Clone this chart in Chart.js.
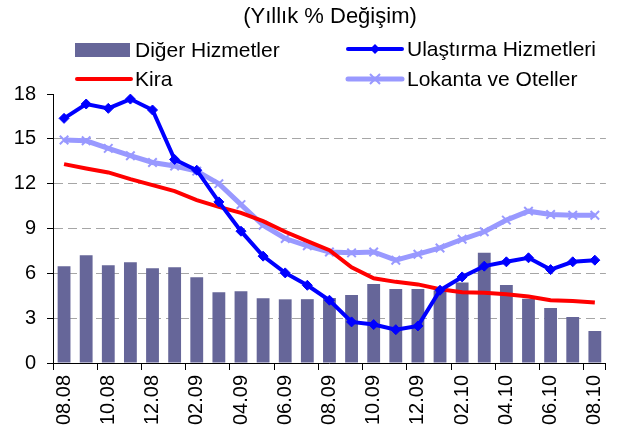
<!DOCTYPE html>
<html>
<head>
<meta charset="utf-8">
<script src="https://cdn.jsdelivr.net/npm/chart.js@4.4.1/dist/chart.umd.min.js"></script>
<style>
  body { margin: 0; background: #fff; }
  .chart-box { width: 624px; height: 440px; }
</style>
</head>
<body>
<div class="chart-box"><canvas id="hizmet-chart" width="624" height="440"></canvas></div>
<script>
const months = ['08.08', '09.08', '10.08', '11.08', '12.08',
  '01.09', '02.09', '03.09', '04.09', '05.09', '06.09', '07.09', '08.09', '09.09', '10.09', '11.09', '12.09',
  '01.10', '02.10', '03.10', '04.10', '05.10', '06.10', '07.10', '08.10'];

const digerHizmetler = [6.47, 7.21, 6.54, 6.74, 6.34, 6.41, 5.74, 4.73, 4.8, 4.33, 4.26, 4.27, 4.35,
  4.55, 5.29, 4.96, 4.96, 4.85, 5.38, 7.37, 5.22, 4.3, 3.68, 3.08, 2.14];
const ulastirma = [16.37, 17.33, 17.04, 17.66, 16.93, 13.62, 12.9, 10.78, 8.82, 7.15, 6.03, 5.2, 4.2,
  2.75, 2.57, 2.23, 2.48, 4.87, 5.76, 6.48, 6.77, 7.04, 6.25, 6.77, 6.88];
const kira = [13.31, 13.02, 12.75, 12.3, 11.9, 11.5, 10.9, 10.45, 10.05, 9.49, 8.78, 8.15, 7.55,
  6.4, 5.67, 5.43, 5.26, 4.93, 4.73, 4.7, 4.6, 4.45, 4.2, 4.15, 4.05];
const lokanta = [14.92, 14.87, 14.36, 13.87, 13.42, 13.18, 12.84, 12.0, 10.6, 9.22, 8.33, 7.84, 7.43,
  7.37, 7.43, 6.88, 7.28, 7.7, 8.28, 8.78, 9.56, 10.16, 9.94, 9.89, 9.89];
const yTicks = [0, 3, 6, 9, 12, 15, 18];

const FONT = '"Liberation Sans", Arial, sans-serif';
Chart.defaults.color = '#000';
Chart.defaults.font.family = FONT;

// title + two column legend, drawn by hand
const legendPlugin = {
  id: 'ikiSutunLegend',
  afterDraw(chart) {
    const ctx = chart.ctx;
    const slots = [{x: 75, y: 50}, {x: 346, y: 49}, {x: 75, y: 79}, {x: 346, y: 79}];
    ctx.save();
    ctx.fillStyle = '#000';
    ctx.textBaseline = 'middle';
    ctx.textAlign = 'center';
    ctx.font = '22px ' + FONT;
    ctx.fillText('(Yıllık % Değişim)', 330, 17);

    ctx.textAlign = 'left';
    ctx.font = '21px ' + FONT;
    chart.data.datasets.forEach((ds, i) => {
      const s = slots[i];
      if (ds.type === 'bar') {
        ctx.fillStyle = ds.backgroundColor;
        ctx.fillRect(s.x, s.y - 7, 55, 14);
      } else {
        ctx.strokeStyle = ds.borderColor;
        ctx.lineWidth = ds.borderWidth;
        ctx.lineCap = 'round';
        ctx.beginPath();
        ctx.moveTo(s.x + 2, s.y);
        ctx.lineTo(s.x + 56, s.y);
        ctx.stroke();
        const mx = s.x + 29;
        if (ds.pointStyle === 'rectRot') {
          ctx.fillStyle = ds.borderColor;
          ctx.beginPath();
          ctx.moveTo(mx, s.y - 5);
          ctx.lineTo(mx + 5, s.y);
          ctx.lineTo(mx, s.y + 5);
          ctx.lineTo(mx - 5, s.y);
          ctx.closePath();
          ctx.fill();
        } else if (ds.pointStyle === 'crossRot') {
          ctx.lineWidth = 2;
          ctx.lineCap = 'butt';
          ctx.beginPath();
          ctx.moveTo(mx - 5, s.y - 5);
          ctx.lineTo(mx + 5, s.y + 5);
          ctx.moveTo(mx + 5, s.y - 5);
          ctx.lineTo(mx - 5, s.y + 5);
          ctx.stroke();
        }
      }
      ctx.fillStyle = '#000';
      ctx.fillText(ds.label, i % 2 ? 407 : 135, s.y + 1);
    });
    ctx.restore();
  }
};

const ctx = document.getElementById('hizmet-chart');

new Chart(ctx, {
  type: 'bar',
  data: {
    labels: months,
    datasets: [
      {
        type: 'bar',
        label: 'Diğer Hizmetler',
        data: digerHizmetler,
        backgroundColor: '#666699',
        barPercentage: 0.58,
        categoryPercentage: 1,
        order: 4
      },
      {
        type: 'line',
        label: 'Ulaştırma Hizmetleri',
        data: ulastirma,
        borderColor: '#0000FF',
        backgroundColor: '#0000FF',
        borderWidth: 4,
        pointStyle: 'rectRot',
        pointRadius: 5,
        pointBorderWidth: 1,
        tension: 0,
        order: 1
      },
      {
        type: 'line',
        label: 'Kira',
        data: kira,
        borderColor: '#FF0000',
        backgroundColor: '#FF0000',
        borderWidth: 4,
        pointRadius: 0,
        tension: 0,
        order: 2
      },
      {
        type: 'line',
        label: 'Lokanta ve Oteller',
        data: lokanta,
        borderColor: '#9999FF',
        backgroundColor: '#9999FF',
        borderWidth: 5,
        pointStyle: 'crossRot',
        pointRadius: 6,
        pointBorderWidth: 2,
        tension: 0,
        order: 3
      }
    ]
  },
  options: {
    responsive: false,
    animation: false,
    layout: { padding: { top: 94, left: 0, right: 6, bottom: 0 } },
    plugins: {
      legend: { display: false },
      title: { display: false },
      tooltip: { enabled: false }
    },
    scales: {
      x: {
        offset: true,
        grid: {
          offset: true,
          drawOnChartArea: false,
          tickLength: 7,
          tickColor: c => (c.index % 2 ? 'rgba(0,0,0,0)' : '#000')
        },
        border: { color: '#000', width: 1 },
        ticks: {
          autoSkip: false,
          minRotation: 90,
          maxRotation: 90,
          padding: 5,
          font: { size: 20 },
          callback: (v, i) => (i % 2 ? '' : months[i])
        },
        afterFit: s => { s.height = 77; }
      },
      y: {
        min: 0,
        max: 18,
        afterBuildTicks: s => { s.ticks = yTicks.map(v => ({ value: v })); },
        grid: {
          color: c => (c.tick && (c.tick.value === 0 || c.tick.value === 18) ? 'rgba(0,0,0,0)' : '#a6a6a6'),
          tickColor: '#000',
          tickLength: 6,
          tickBorderDash: [0, 0]
        },
        border: { color: '#000', width: 1, dash: [9, 5] },
        ticks: { padding: 11, font: { size: 20 } },
        afterFit: s => { s.width = 53; }
      }
    }
  },
  plugins: [legendPlugin]
});
</script>
</body>
</html>
